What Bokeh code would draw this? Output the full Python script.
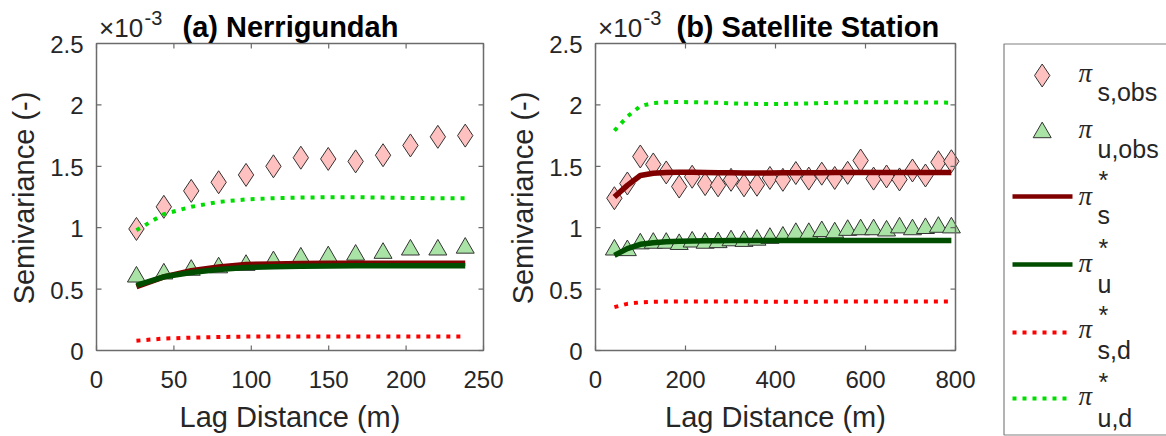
import math

from bokeh.plotting import figure
from bokeh.layouts import row
from bokeh.models import Range1d
from bokeh.embed import file_html
from bokeh.resources import INLINE
from bokeh.core.properties import value

# ---------------- data (semivariance in units of 1e-3) ----------------
# (a) Nerrigundah
lag_a = [25.8, 43.5, 61.2, 78.9, 96.6, 114.3, 132.0, 149.7, 167.4, 185.1, 202.8, 220.5, 238.2]
obs_s_a = [0.99, 1.17, 1.30, 1.37, 1.43, 1.50, 1.57, 1.56, 1.54, 1.59, 1.67, 1.74, 1.75]
obs_u_a = [0.60, 0.625, 0.655, 0.675, 0.695, 0.725, 0.755, 0.765, 0.778, 0.793, 0.82, 0.82, 0.835]
pis_a = [0.52, 0.60, 0.65, 0.68, 0.70, 0.705, 0.708, 0.71, 0.71, 0.71, 0.71, 0.71, 0.71]
piu_a = [0.53, 0.60, 0.635, 0.66, 0.675, 0.683, 0.687, 0.689, 0.69, 0.69, 0.69, 0.69, 0.69]
pisd_a = [0.08, 0.097, 0.105, 0.11, 0.113, 0.115, 0.115, 0.115, 0.115, 0.115, 0.115, 0.115, 0.115]
piud_a = [0.98, 1.11, 1.17, 1.21, 1.23, 1.24, 1.245, 1.248, 1.248, 1.245, 1.242, 1.24, 1.24]

# (b) Satellite Station
lag_b = [42.0, 70.8, 99.6, 128.4, 157.2, 186.0, 214.8, 243.6, 272.4, 301.2, 330.0, 358.8,
         387.6, 416.4, 445.2, 474.0, 502.8, 531.6, 560.4, 589.2, 618.0, 646.8, 675.6,
         704.4, 733.2, 762.0, 790.8]
obs_s_b = [1.24, 1.36, 1.58, 1.515, 1.45, 1.335, 1.415, 1.355, 1.345, 1.39, 1.345, 1.35,
           1.405, 1.39, 1.445, 1.40, 1.44, 1.405, 1.447, 1.547, 1.40, 1.417, 1.393,
           1.466, 1.425, 1.533, 1.541]
obs_u_b = [0.82, 0.815, 0.87, 0.875, 0.875, 0.865, 0.885, 0.875, 0.88, 0.895, 0.89, 0.9,
           0.915, 0.925, 0.955, 0.955, 0.97, 0.96, 0.98, 0.985, 0.985, 0.975, 1.0,
           0.985, 0.995, 1.005, 1.0]
pis_b = [1.25, 1.345, 1.425, 1.443, 1.45, 1.452, 1.452, 1.45, 1.448, 1.447, 1.446, 1.446,
         1.446, 1.447, 1.447, 1.448, 1.448, 1.449, 1.449, 1.45, 1.45, 1.45, 1.45, 1.45,
         1.45, 1.45, 1.45]
piu_b = [0.775, 0.83, 0.865, 0.878, 0.885, 0.889, 0.892, 0.893, 0.894, 0.895, 0.895, 0.895,
         0.896, 0.896, 0.896, 0.896, 0.896, 0.896, 0.896, 0.896, 0.896, 0.896, 0.896,
         0.896, 0.896, 0.896, 0.896]
pisd_b = [0.353, 0.38, 0.392, 0.397, 0.399, 0.4, 0.4, 0.4, 0.4, 0.4, 0.4, 0.398, 0.397,
          0.396, 0.396, 0.397, 0.398, 0.399, 0.4, 0.4, 0.4, 0.4, 0.4, 0.4, 0.4, 0.4, 0.4]
piud_b = [1.79, 1.905, 1.99, 2.015, 2.022, 2.023, 2.022, 2.02, 2.017, 2.013, 2.01, 2.008,
          2.007, 2.008, 2.01, 2.012, 2.015, 2.018, 2.02, 2.022, 2.022, 2.022, 2.021,
          2.02, 2.02, 2.019, 2.018]

y_ticks = [0, 0.5, 1, 1.5, 2, 2.5]
y_tick_labels = ["0", "0.5", "1", "1.5", "2", "2.5"]
x_ticks_a = [0, 50, 100, 150, 200, 250]
x_ticks_b = [0, 200, 400, 600, 800]

Y_MAX = 2.5
X_LABEL = "Lag Distance (m)"
Y_LABEL = "Semivariance (-)"

# ---------------- styling ----------------
FONT = "Liberation Sans"
TXT = "#262626"
FRAME = "#6b6b6b"
C_OBS_S = "#ffc0c0"
C_OBS_U = "#aae3a6"
C_PIS = "#800000"
C_PIU = "#004d00"
C_PISD = "#ff0000"
C_PIUD = "#00dd00"
DOT = "4 6"

H = 436                     # canvas height
FRAME_T, FRAME_B = 43, 350  # axes box, pixels from the top


def panel(title, title_dx, lag, obs_s, obs_u, pis, piu, pisd, piud,
          x_end, x_ticks, width, frame_l, frame_r):
    # pixels per data unit inside the axes box
    sx = (frame_r - frame_l) / x_end
    sy = (FRAME_B - FRAME_T) / Y_MAX

    def dx(px):
        return px / sx

    def dy(px):
        return px / sy

    p = figure(width=width, height=H,
               x_range=Range1d(-frame_l / sx, (width - frame_l) / sx),
               y_range=Range1d(-(H - FRAME_B) / sy, FRAME_B / sy),
               output_backend="svg", toolbar_location=None,
               x_axis_location=None, y_axis_location=None,
               min_border_left=0, min_border_right=0, min_border_top=0, min_border_bottom=0)
    p.grid.visible = False
    p.outline_line_color = None
    p.background_fill_color = None
    p.border_fill_color = None

    # observed semivariances
    p.scatter(lag, obs_s, marker="diamond", size=23, fill_color=C_OBS_S,
              line_color="#333333", line_width=1)
    p.scatter(lag, obs_u, marker="triangle", size=18, fill_color=C_OBS_U,
              line_color="#333333", line_width=1)

    # fitted model curves
    p.line(lag, pis, line_color=C_PIS, line_width=5.5)
    p.line(lag, piu, line_color=C_PIU, line_width=5.5)
    p.line(lag, pisd, line_color=C_PISD, line_width=4, line_dash=DOT)
    p.line(lag, piud, line_color=C_PIUD, line_width=4, line_dash=DOT)

    # axes box with inward ticks on all four sides
    p.quad(left=0, right=x_end, bottom=0, top=Y_MAX, fill_color=None,
           line_color=FRAME, line_width=1.5)
    tl = 5
    n = len(x_ticks)
    p.segment(x0=x_ticks, y0=[0] * n, x1=x_ticks, y1=[dy(tl)] * n,
              line_color=FRAME, line_width=1.2)
    p.segment(x0=x_ticks, y0=[Y_MAX] * n, x1=x_ticks, y1=[Y_MAX - dy(tl)] * n,
              line_color=FRAME, line_width=1.2)
    m = len(y_ticks)
    p.segment(x0=[0] * m, y0=y_ticks, x1=[dx(tl)] * m, y1=y_ticks,
              line_color=FRAME, line_width=1.2)
    p.segment(x0=[x_end] * m, y0=y_ticks, x1=[x_end - dx(tl)] * m, y1=y_ticks,
              line_color=FRAME, line_width=1.2)

    # tick labels
    p.text(x=[-dx(13)] * m, y=[t - dy(1) for t in y_ticks], text=y_tick_labels,
           text_font=value(FONT), text_font_size="24px", text_color=TXT,
           text_align="right", text_baseline="middle")
    p.text(x=x_ticks, y=[-dy(29)] * n, text=[str(t) for t in x_ticks],
           text_font=value(FONT), text_font_size="24px", text_color=TXT,
           text_align="center", text_baseline="middle")

    # axis titles
    p.text(x=[x_end / 2], y=[-dy(66)], text=[X_LABEL],
           text_font=value(FONT), text_font_size="29px", text_color=TXT,
           text_align="center", text_baseline="middle")
    p.text(x=[-dx(72.5)], y=[Y_MAX / 2 - dy(1)], text=[Y_LABEL], angle=math.pi / 2,
           text_font=value(FONT), text_font_size="29px", text_color=TXT,
           text_align="center", text_baseline="middle")

    # exponent note and panel heading above the box
    p.text(x=[dx(2.5)], y=[Y_MAX + dy(16)], text=["×10"],
           text_font=value(FONT), text_font_size="26px", text_color=TXT,
           text_align="left", text_baseline="middle")
    p.text(x=[dx(48)], y=[Y_MAX + dy(26)], text=["-3"],
           text_font=value(FONT), text_font_size="20px", text_color=TXT,
           text_align="left", text_baseline="middle")
    p.text(x=[dx(title_dx)], y=[Y_MAX + dy(17)], text=[title],
           text_font=value(FONT), text_font_size="29px", text_font_style="bold",
           text_color="black", text_align="left", text_baseline="middle")
    return p


pa = panel("(a) Nerrigundah", 86, lag_a, obs_s_a, obs_u_a, pis_a, piu_a, pisd_a, piud_a,
           250, x_ticks_a, 506, 96, 483)
pb = panel("(b) Satellite Station", 81, lag_b, obs_s_b, obs_u_b, pis_b, piu_b, pisd_b, piud_b,
           800, x_ticks_b, 494, 89, 449)

# ---------------- legend panel (coordinates in pixels, y downwards) ----------------
pl = figure(width=166, height=H, x_range=Range1d(0, 166), y_range=Range1d(H, 0),
            output_backend="svg", toolbar_location=None,
            x_axis_location=None, y_axis_location=None,
            min_border_left=0, min_border_right=0, min_border_top=0, min_border_bottom=0)
pl.grid.visible = False
pl.outline_line_color = None

pl.quad(left=3.5, right=180, top=43.5, bottom=434.5, fill_color=None,
        line_color="#808080", line_width=1.2)

pl.scatter([41.7], [75], marker="diamond", size=23, fill_color=C_OBS_S,
           line_color="#333333", line_width=1)
pl.scatter([41.7], [132], marker="triangle", size=18, fill_color=C_OBS_U,
           line_color="#333333", line_width=1)
line_rows = [196, 264, 332, 398]
line_cols = [C_PIS, C_PIU, C_PISD, C_PIUD]
line_dash = ["solid", "solid", DOT, DOT]
line_w = [4.5, 4.5, 4, 4]
for yy, cc, dd, ww in zip(line_rows, line_cols, line_dash, line_w):
    pl.line([12, 72], [yy, yy], line_color=cc, line_width=ww, line_dash=dd)

pi_mid = [72.6, 128.9, 195.6, 262.6, 328.9, 395.6]
sub_mid = [91.3, 148.3, 214.3, 283.3, 349.3, 417.3]
sub_text = ["s,obs", "u,obs", "s", "u", "s,d", "u,d"]
star_mid = [179.3, 247.3, 314.3, 381.3]

pl.text(x=[78] * 6, y=pi_mid, text=["π"] * 6, text_font=value("Liberation Serif"),
        text_font_style="italic", text_font_size="27px", text_color=TXT,
        text_baseline="middle")
pl.text(x=[97] * 6, y=sub_mid, text=sub_text, text_font=value(FONT),
        text_font_size="25px", text_color=TXT, text_baseline="middle")
pl.text(x=[98] * 4, y=star_mid, text=["*"] * 4, text_font=value(FONT),
        text_font_size="25px", text_color=TXT, text_baseline="middle")

layout = row(pa, pb, pl, spacing=0)
open("out.html", "w").write(file_html(layout, INLINE))
